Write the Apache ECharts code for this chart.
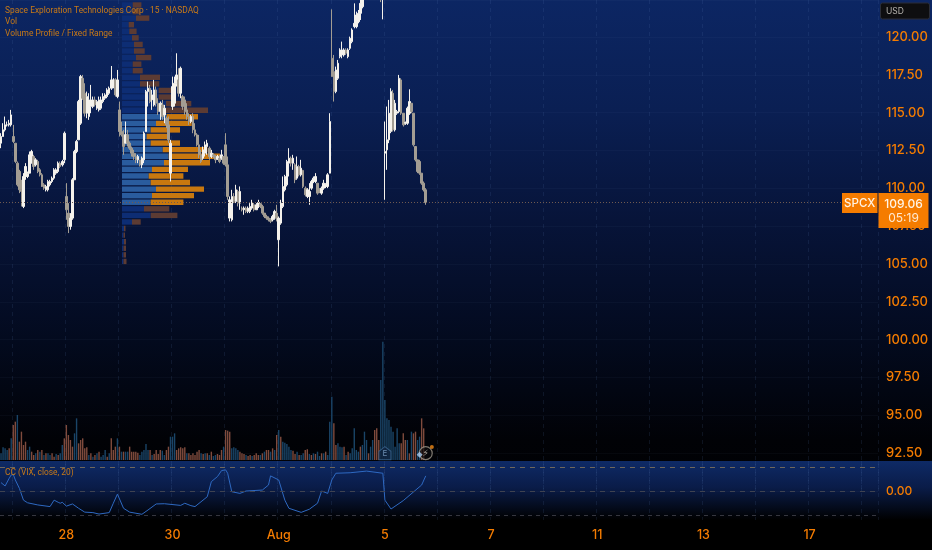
<!DOCTYPE html>
<html><head><meta charset="utf-8">
<style>html,body{margin:0;padding:0;background:#000}#c{width:932px;height:550px}</style>
<script src="https://cdn.jsdelivr.net/npm/echarts@6/dist/echarts.min.js"></script>
</head><body><div id="c"></div>
<script>
const opens=[112.98,113.42,113.86,114.19,114.19,114.19,113.42,112.98,111.66,111.11,109.9,108.8,110.78,110.78,111,111.66,112.1,111.55,111.77,111.22,110.89,110.23,109.9,109.9,110.23,110.45,110.67,111,111.11,111.66,111.55,111.88,
109.46,108.36,107.48,108.03,110.56,112.43,113.2,114.3,117.27,116.28,114.96,114.74,115.4,115.4,115.84,115.29,115.18,115.29,115.73,115.95,116.06,116.28,116.61,116.72,117.16,116.06,
115.18,113.75,113.53,112.98,113.53,112.98,112.65,112.32,112.1,111.88,111.88,111.55,111.88,113.75,116.39,116.61,115.84,115.51,116.5,115.62,115.07,115.51,114.85,114.63,114.19,111,
115.4,115.62,116.94,117.16,116.28,116.06,115.84,115.18,114.74,114.41,114.74,113.86,113.53,112.87,112.21,111.99,112.32,112.76,112.65,112.1,112.21,112.1,111.92,111.99,111.99,112.1,
112.87,111.55,108.03,107.92,109.46,109.13,109.79,109.02,108.69,108.58,108.69,108.47,108.47,108.69,108.91,108.58,108.8,108.98,108.8,108.36,108.14,108.03,107.92,107.92,108.03,108.36,
106.6,107.7,108.8,109.9,110.23,111.66,111.99,111.66,111.55,110.67,111.44,110.89,111.18,110.01,109.46,109.46,110.01,110.45,110.45,110.34,109.9,109.68,110.01,110.12,110.12,111,
118.59,117.71,116.39,117.27,118.7,118.81,118.81,119.14,118.7,119.25,119.69,120.68,120.68,121.01,121.56,122,122.7,123.1,123.6,124,124.3,124.1,123.8,123.4,123,122.6,
112.32,112.54,113.2,113.75,116.28,113.86,114.96,115.07,117.16,114.96,114.3,114.3,114.96,115.62,114.96,112.76,111.88,111.77,111,110.34,109.9];
const closes=[113.42,113.86,114.19,114.19,114.3,114.85,113.09,111.77,110.23,109.9,109.79,110.78,111.44,111,112.21,112.43,111.44,111.88,111.11,110.89,110.12,110.01,110.12,110.45,110.45,110.67,111.22,111.22,111.66,111.44,111.77,113.64,
108.58,107.48,108.03,110.56,112.43,113.09,115.73,117.38,115.95,114.96,116.06,115.84,115.84,115.84,115.51,115.73,115.84,115.84,116.06,116.17,116.5,116.61,117.16,117.16,116.17,117.16,
113.75,113.53,112.76,113.53,112.98,112.65,112.32,112.1,111.88,112.1,111.55,111.99,113.64,116.39,116.61,115.73,116.17,116.5,115.62,115.07,115.62,114.74,115.29,114.19,113.2,112.98,
116.72,116.94,117.49,116.28,117.93,115.4,115.07,114.74,114.41,114.74,113.86,113.53,112.87,112.21,111.77,112.54,112.87,112.98,112.1,112.32,112.1,111.88,112.1,111.77,112.21,111.66,
111.55,109.46,109.24,109.46,109.13,109.9,109.02,109.79,108.58,108.69,108.47,108.69,108.8,109.02,108.58,108.91,109.06,108.8,108.36,108.14,108.03,107.92,107.81,108.14,108.47,108.03,
108.03,109.02,110.12,110.78,111.77,111.99,111.66,111.99,110.56,111.44,110.89,111.33,110.12,109.57,109.9,109.79,110.45,110.67,110.78,109.68,109.79,110.01,110.34,110.23,110.89,114.41,
117.38,116.39,117.82,118.26,119.14,119.14,119.14,118.92,119.14,119.91,120.46,120.9,121.45,121.56,122.22,122.66,123.1,123.6,124,124.3,124.1,123.8,123.4,123,122.6,123.2,
112.43,113.2,114.96,116.39,113.86,115.62,115.07,117.27,114.96,114.19,114.34,115.29,115.73,115.07,112.87,111.88,111.11,111,110.34,109.9,109.06];
const lows=[112.65,113.42,113.75,114.08,114.08,114.08,112.98,111.66,110.12,109.68,108.8,108.69,110.56,110.67,111,111.66,111.22,111.44,111,110.78,110.78,109.9,109.79,109.79,110.12,110.34,110.56,110.89,111,111.33,111.44,111.66,
107.92,107.04,107.26,107.92,110.56,112.32,113.2,114.19,115.84,114.74,114.63,114.52,114.96,115.29,115.4,115.18,115.07,115.18,115.62,115.84,115.95,116.17,116.5,116.61,116.06,115.95,
113.42,113.42,112.21,112.98,112.76,112.54,112.1,111.88,111.66,111.66,111.44,111.33,111.66,113.75,115.4,115.62,115.18,115.4,115.4,114.85,114.52,114.52,114.3,113.97,112.98,110.45,
115.18,115.4,116.72,116.06,115.95,115.18,114.85,114.52,114.19,114.3,113.64,113.42,112.76,111.99,111.66,111.88,112.1,112.21,111.88,111.99,111.99,111.66,111.88,111.66,111.88,111.55,
111.44,109.24,107.81,107.81,109.02,109.02,108.8,108.58,108.47,108.25,108.36,108.36,108.36,108.58,108.47,108.58,108.69,108.69,108.25,108.03,107.92,107.81,107.7,107.81,107.92,107.81,
104.84,107.59,108.69,109.79,110.12,110.78,111.44,111.22,110.34,110.56,110.78,110.78,110.01,109.46,109.35,108.91,109.9,110.34,110.34,109.57,109.68,109.57,109.9,110.01,110.01,111,
117.38,115.73,116.28,117.16,118.59,118.59,118.7,118.81,118.59,119.14,119.58,120.57,120.57,120.9,121.12,121.89,122.5,122.9,123.3,123.7,123.8,123.5,123.1,122.7,122.3,121.16,
109.24,111.22,112.98,113.64,113.75,113.75,114.85,114.96,114.85,114.08,114.19,114.19,114.85,114.96,112.76,111.77,111,110.89,110.23,109.79,108.91];
const highs=[113.64,114.3,114.74,114.41,114.52,115.18,114.19,112.98,111.77,111.22,110.56,111,111.66,111.11,112.43,112.54,112.21,111.99,111.88,111.33,111,110.34,110.23,110.56,110.56,110.78,111.33,111.33,111.77,111.77,111.88,113.75,
110.34,109.02,108.36,110.67,112.54,113.2,115.84,117.49,117.49,116.94,116.39,116.28,116.83,116.06,116.06,115.84,116.06,116.06,116.28,116.28,116.61,116.72,118.08,117.27,117.27,117.82,
115.73,114.41,113.86,114.41,113.86,113.09,112.76,112.54,112.32,112.21,111.88,112.1,113.75,116.5,117.05,116.83,116.5,117.16,116.72,115.95,115.73,115.84,115.51,114.74,114.74,113.2,
117.38,117.38,118.92,117.93,118.04,116.17,116.06,115.62,114.96,114.85,114.96,114.3,113.64,113.53,112.54,112.76,113.09,113.2,112.76,112.54,112.32,112.21,112.21,112.21,112.54,112.1,
113.64,112.1,109.46,109.9,109.68,110.23,109.9,110.12,108.8,108.8,108.8,108.8,109.02,109.24,109.02,109.02,109.24,109.02,108.91,108.36,108.25,108.14,108.03,108.25,108.58,108.91,
108.14,109.24,110.78,110.89,111.88,112.65,112.1,112.21,111.66,112.1,111.55,111.88,111.22,110.12,110.01,110.34,110.56,110.78,111,110.34,110.01,110.12,110.56,110.34,111,114.96,
121.82,118.81,118.04,118.48,119.25,119.69,119.25,119.25,119.25,120.02,120.57,122.22,121.67,121.78,122.44,122.88,123.5,123.9,124.3,124.6,124.7,124.4,124,123.6,123.3,124.2,
114.41,115.4,115.84,116.61,116.5,115.84,115.18,117.49,117.27,114.96,114.41,115.4,116.54,115.62,114.96,112.76,111.88,111.88,111,110.45,110.01];

const volumes=[20,38,35,30,35,65,105,115,135,55,85,45,55,30,40,25,15,20,30,25,30,15,20,20,15,20,10,18,15,20,45,65,105,75,60,40,80,125,50,60,65,35,38,15,20,10,15,20,25,10,15,30,10,20,65,30,40,65,40,25,25,25,25,40,25,25,25,22,15,25,30,48,30,30,15,18,30,18,30,28,15,30,40,70,70,80,30,35,38,35,38,20,20,15,20,15,25,30,20,18,20,20,15,25,12,15,18,15,30,40,90,88,85,35,38,35,30,
25,20,18,15,12,15,12,15,20,15,15,20,25,30,30,25,35,30,75,90,70,55,52,48,40,30,28,18,25,15,15,20,30,32,18,15,20,18,25,12,20,20,25,15,115,190,110,45,50,40,38,40,15,25,20,35,95,30,25,40,45,85,60,20,40,60,90,95,60,240,355,180,125,120,100,85,40,95,50,50,80,60,60,20,85,80,85,60,70,125,95];
const volSide="bbbbrb"+"rrbrrrrbbrrbrbrbrbbrrbrbb"+"rrrrrbbrrrrrbrbrbrbbbrbrrrb"+"rbrbbrrrrrbbbbbrbrrrrbbrrb"+"bbrrrrrbrrrrrrbrbrbrbbrrrbrrrbbbb"+"rrrbrrbrrr"+"brbrrbrbrb"+"rbbbbbrrbr"+"bbrrbrbrbb"+"rbrbbbrrbb"+"brbrbbbbbr"+"bbbrbbrrrb"+"bbbbbbbbbr"+"rrbrbrrbbrrr";

const rowBuy=[10.7,10.7,14,6.7,7.3,10,12,12,14,10.7,10.7,18,18,36.7,36.7,44,44,44.7,34,28.7,24.7,28.7,40.7,46.7,42,30,26.7,28.7,34,30,28.7,22,28.7,10,2,1.5,2,1.5,1.5,1.5];
const rowSell=[8.7,7.3,13.3,5.3,7.3,6.7,8.7,10.7,15.3,8.7,10,20,19.3,13.3,16,25.3,42,31.3,35.7,29.3,22.7,29.3,44.7,51.3,46,36,34.7,39.3,48,42,32.7,25.3,26.7,8.7,1.5,1.5,2,2.5,2.5,3];
const valueAreaRows=[17,18,19,20,21,22,23,24,25,26,27,28,29,30];

const ccIndex=[0,2,4,5,6,7,9,11,13,18,24,26,28,29,30,32,35,38,41,45,48,53,55,57,60,63,69,72,76,80,88,90,93,95,101,103,106,108,110,111,113,117,120,128,131,132,136,139,141,147,151,155,157,160,162,164,171,179,187,188,191,197,206,208];
const ccValue=[0.35,0.21,0.53,0.67,0.69,0.46,0.11,-0.38,-0.49,-0.58,-0.65,-0.38,-0.47,-0.51,-0.47,-0.63,-0.54,-0.72,-0.88,-0.90,-0.96,-0.90,-0.51,-0.13,-0.72,-0.88,-0.97,-0.79,-0.54,-0.53,-0.60,-0.51,-0.61,-0.65,-0.24,0.39,0.60,0.85,0.88,0.74,-0.03,-0.10,0,0.04,0.25,0.63,0.46,-0.38,-0.72,-0.89,-0.76,-0.51,0,-0.10,0.46,0.74,0.76,0.83,0.74,-0.38,-0.75,-0.40,0.25,0.63];

const dayLabels={32:"28",84:"30",136:"Aug",188:"5",240:"7",292:"11",344:"13",396:"17"};
const lastPrice=109.06;
const slots=430;
const categories=Array.from({length:slots},(_,i)=>dayLabels[i]||"");

const ORANGE="#f57c00";
const FONT="Inter, 'Noto Sans', sans-serif";
const TEXTFONT="Roboto, 'Noto Sans', sans-serif";
const isDayLine=i=>(i-6)%26===0;
const hiddenCat=(g,extra)=>Object.assign({type:"category",gridIndex:g,data:categories,boundaryGap:true,axisLine:{show:false},axisTick:{show:false},axisLabel:{show:false},splitLine:{show:false}},extra||{});
const dayGrid={show:true,interval:isDayLine,lineStyle:{color:"rgba(95,125,185,0.14)",type:[4,4],width:1}};

const chart=echarts.init(document.getElementById("c"),null,{renderer:"canvas"});
chart.setOption({
 animation:false,
 backgroundColor:{type:"linear",x:0,y:0,x2:0,y2:1,colorStops:[{offset:0,color:"#0c2663"},{offset:0.2,color:"#0a1f53"},{offset:0.4,color:"#071439"},{offset:0.62,color:"#030a1e"},{offset:0.8,color:"#010206"},{offset:1,color:"#000000"}]},
 grid:[
  {left:0,top:0,width:878,height:491},
  {left:0,top:340,width:878,height:120},
  {left:122,top:1.7,width:120,height:263},
  {left:0,top:461,width:878,height:59}
 ],
 xAxis:[
  hiddenCat(0,{splitLine:dayGrid}),
  hiddenCat(1),
  {type:"value",gridIndex:2,min:0,max:120,show:false},
  hiddenCat(3,{splitLine:dayGrid,axisLabel:{show:true,interval:(i,v)=>v!=="",color:ORANGE,fontFamily:FONT,fontSize:12.5,fontWeight:500,margin:9,hideOverlap:false}})
 ],
 yAxis:[
  {type:"value",gridIndex:0,position:"right",min:90,max:122.44,interval:2.5,axisLine:{show:false},axisTick:{show:false},
   axisLabel:{margin:8,padding:[2,0,0,0],color:ORANGE,fontFamily:FONT,fontSize:13,fontWeight:500,showMinLabel:false,showMaxLabel:false,formatter:v=>v.toFixed(2)},
   splitLine:{show:true,lineStyle:{color:"rgba(150,170,210,0.045)",width:1}}},
  {type:"value",gridIndex:1,min:0,max:360,show:false},
  {type:"category",gridIndex:2,inverse:true,show:false,data:rowBuy.map((_,i)=>"r"+i)},
  {type:"value",gridIndex:3,position:"right",min:-1.208,max:1.25,axisLine:{show:false},axisTick:{show:false},splitLine:{show:false},
   axisLabel:{margin:8,padding:[1,0,0,0],color:ORANGE,fontFamily:FONT,fontSize:12,fontWeight:500,customValues:[0],formatter:v=>v.toFixed(2)}}
 ],
 series:[
  {type:"bar",name:"VP buy",xAxisIndex:2,yAxisIndex:2,stack:"vp",barWidth:5.4,z:1,silent:true,
   data:rowBuy.map((v,i)=>({value:v,itemStyle:{color:valueAreaRows.includes(i)?"#2a5c9e":"#0d2d74"}}))},
  {type:"bar",name:"VP sell",xAxisIndex:2,yAxisIndex:2,stack:"vp",barWidth:5.4,z:1,silent:true,
   data:rowSell.map((v,i)=>({value:v,itemStyle:{color:valueAreaRows.includes(i)?"#c8780f":"#5c3b33"}}))},
  {type:"bar",name:"Vol",xAxisIndex:1,yAxisIndex:1,barWidth:1.4,z:2,silent:true,
   data:volumes.map((v,i)=>({value:v,itemStyle:{color:volSide[i]==="b"?"#1a4568":"#7f4b3d"}}))},
  {type:"candlestick",name:"SPCX",xAxisIndex:0,yAxisIndex:0,barWidth:2,z:3,silent:true,
   data:opens.map((o,i)=>[o,closes[i],lows[i],highs[i]]),
   itemStyle:{color:"#f5f2ec",color0:"#a39d93",borderColor:"#f5f2ec",borderColor0:"#a39d93",borderWidth:1},
   markLine:{silent:true,symbol:"none",animation:false,label:{show:false},lineStyle:{color:"#6f5a50",type:[1,2],width:1},data:[{yAxis:lastPrice}]}},
  {type:"scatter",name:"Earnings",xAxisIndex:0,yAxisIndex:0,z:5,silent:true,symbol:"path://M0,8 L8,0 L16,8 L16,22 L0,22 Z",symbolSize:[12,13],
   itemStyle:{color:"#10233f",borderColor:"#3c6690",borderWidth:1},
   label:{show:true,position:"inside",formatter:"E",color:"#7fa2c8",fontSize:8,fontFamily:FONT},data:[[188,92.5]]},
  {type:"scatter",name:"Dividends",xAxisIndex:0,yAxisIndex:0,z:5,silent:true,symbol:"circle",symbolSize:13,
   itemStyle:{color:"rgba(10,10,12,0.85)",borderColor:"#a0988c",borderWidth:1.2},
   label:{show:true,position:"inside",formatter:"⚡",color:"#d8d0c2",fontSize:9,fontFamily:"DejaVu Sans"},data:[[208,92.5]]},
  {type:"scatter",name:"Split",xAxisIndex:0,yAxisIndex:0,z:6,silent:true,symbol:"diamond",symbolSize:6,itemStyle:{color:"#a9cdf2"},data:[[205,92.4]]},
  {type:"scatter",name:"Alert",xAxisIndex:0,yAxisIndex:0,z:6,silent:true,symbol:"circle",symbolSize:4,itemStyle:{color:"#f08a16"},data:[[211,92.9]]},
  {type:"line",name:"CC",xAxisIndex:3,yAxisIndex:3,z:3,silent:true,symbol:"none",lineStyle:{color:"#2e69c2",width:1},
   data:ccIndex.map((x,i)=>[x,ccValue[i]]),
   markLine:{silent:true,symbol:"none",animation:false,label:{show:false},data:[
    {yAxis:1,lineStyle:{color:"#6e675c",type:[5,5],width:1}},
    {yAxis:0,lineStyle:{color:"#3f4350",type:[5,5],width:1}},
    {yAxis:-1,lineStyle:{color:"#35363f",type:[4,4],width:1}}]}}
 ],
 graphic:[
  {type:"rect",z:-10,silent:true,shape:{x:0,y:461,width:932,height:59},style:{fill:{type:"linear",x:0,y:0,x2:0,y2:1,colorStops:[{offset:0,color:"#0e2a66"},{offset:0.45,color:"#0a1c48"},{offset:1,color:"#000000"}]}}},
  {type:"rect",z:-10,silent:true,shape:{x:0,y:520,width:932,height:30},style:{fill:"#000"}},
  {type:"text",z:50,silent:true,style:{x:5,y:11,text:"Space Exploration Technologies Corp · 15 · NASDAQ",fill:"#c97a17",font:"8.4px "+TEXTFONT,textVerticalAlign:"middle"}},
  {type:"text",z:50,silent:true,style:{x:5,y:22,text:"Vol",fill:"#c97a17",font:"8.4px "+TEXTFONT,textVerticalAlign:"middle"}},
  {type:"text",z:50,silent:true,style:{x:5,y:33.5,text:"Volume Profile / Fixed Range",fill:"#c97a17",font:"8.4px "+TEXTFONT,textVerticalAlign:"middle"}},
  {type:"text",z:50,silent:true,style:{x:5,y:472.5,text:"CC (VIX, close, 20)",fill:"#c97a17",font:"8.4px "+TEXTFONT,textVerticalAlign:"middle"}},
  {type:"rect",z:60,silent:true,shape:{x:880.5,y:3,width:49,height:16,r:2},style:{fill:"#0e0e10",stroke:"#2a2d38"}},
  {type:"text",z:61,silent:true,style:{x:886,y:11.5,text:"USD",fill:"#b5b3ae",font:"8.5px "+FONT,textVerticalAlign:"middle"}},
  {type:"rect",z:60,silent:true,shape:{x:842,y:193,width:35.5,height:20},style:{fill:ORANGE}},
  {type:"text",z:61,silent:true,style:{x:859.7,y:203.5,text:"SPCX",fill:"#fff4e6",font:"500 11.5px "+FONT,textAlign:"center",textVerticalAlign:"middle"}},
  {type:"rect",z:60,silent:true,shape:{x:878.5,y:193,width:50,height:35},style:{fill:ORANGE}},
  {type:"text",z:61,silent:true,style:{x:903.5,y:204,text:lastPrice.toFixed(2),fill:"#fff4e6",font:"500 12px "+FONT,textAlign:"center",textVerticalAlign:"middle"}},
  {type:"text",z:61,silent:true,style:{x:903.5,y:218.5,text:"05:19",fill:"#ffe9d0",font:"12px "+FONT,textAlign:"center",textVerticalAlign:"middle"}},
 ]
});
</script></body></html>
